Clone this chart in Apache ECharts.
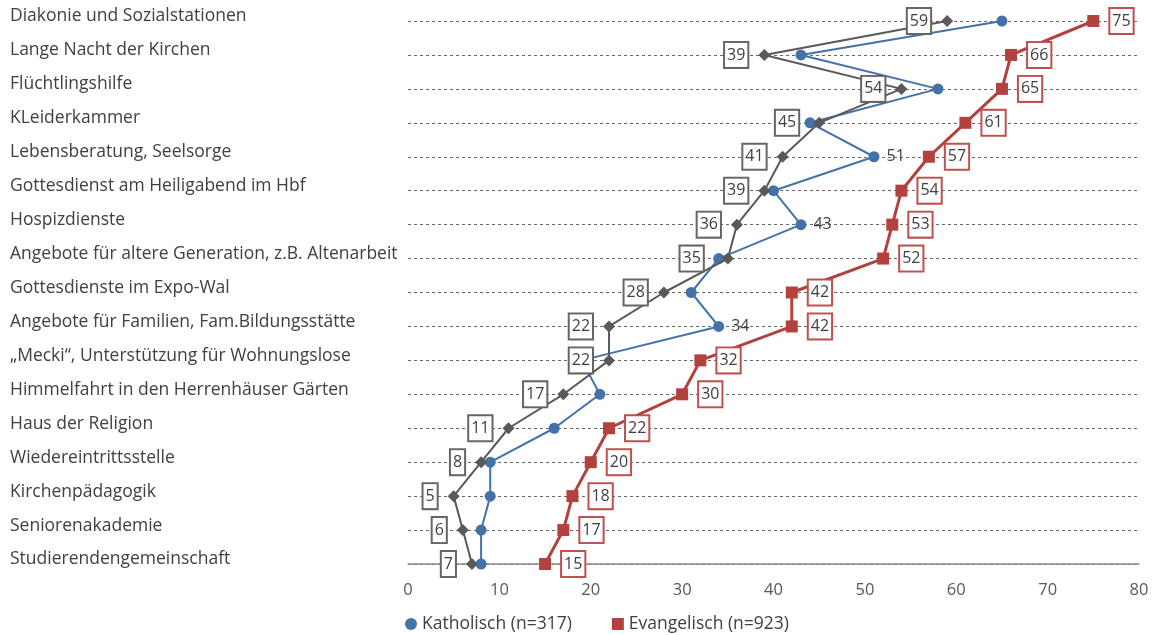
<!DOCTYPE html>
<html>
<head>
<meta charset="utf-8">
<script src="https://cdn.jsdelivr.net/npm/echarts@6/dist/echarts.min.js"></script>
<style>
  html, body { margin: 0; padding: 0; background: #fff; }
  #chart { width: 1154px; height: 635px; }
</style>
</head>
<body>
<div id="chart"></div>
<script>
// Angebote, von oben nach unten
const categories = [
  'Diakonie und Sozialstationen',
  'Lange Nacht der Kirchen',
  'Flüchtlingshilfe',
  'KLeiderkammer',
  'Lebensberatung, Seelsorge',
  'Gottesdienst am Heiligabend im Hbf',
  'Hospizdienste',
  'Angebote für altere Generation, z.B. Altenarbeit',
  'Gottesdienste im Expo-Wal',
  'Angebote für Familien, Fam.Bildungsstätte',
  '„Mecki“, Unterstützung für Wohnungslose',
  'Himmelfahrt in den Herrenhäuser Gärten',
  'Haus der Religion',
  'Wiedereintrittsstelle',
  'Kirchenpädagogik',
  'Seniorenakademie',
  'Studierendengemeinschaft'
];

const katholisch  = [65, 43, 58, 44, 51, 40, 43, 34, 31, 34, 19, 21, 16, 9, 9, 8, 8];
const evangelisch = [75, 66, 65, 61, 57, 54, 53, 52, 42, 42, 32, 30, 22, 20, 18, 17, 15];
const gesamt      = [59, 39, 54, 45, 41, 39, 36, 35, 28, 22, 22, 17, 11, 8, 5, 6, 7];

// Katholische Werte, die eine Beschriftung tragen
const katholischLabelled = [4, 6, 9];
// Gesamt-Beschriftungen, die etwas weiter nach links gerückt sind
const gesamtLabelShift = { 3: -4, 7: -8 };

const xTicks = { min: 0, max: 80, interval: 10 };

const FONT = '"Open Sans", "Liberation Sans", sans-serif';
const TEXT = '#404040';
const BLUE = '#4472A8';
const RED = '#B3413E';
const GRAY = '#595959';

const chart = echarts.init(document.getElementById('chart'), null, { renderer: 'canvas' });

const boxLabel = (borderColor) => ({
  show: true,
  color: TEXT,
  fontFamily: FONT,
  fontSize: 16,
  lineHeight: 20,
  backgroundColor: '#fff',
  borderColor: borderColor,
  borderWidth: 2,
  padding: [3, 2, 1, 2],
  formatter: (p) => String(p.value[0])
});

const option = {
  animation: false,
  textStyle: { fontFamily: FONT },
  grid: { left: 408, right: 15, top: 21, bottom: 71, containLabel: false },
  xAxis: {
    type: 'value',
    min: xTicks.min,
    max: xTicks.max,
    interval: xTicks.interval,
    axisLine: { show: true, lineStyle: { color: '#8c8c8c', width: 1.5 } },
    axisTick: { show: false },
    splitLine: { show: false },
    axisLabel: { color: '#595959', fontSize: 16.5, fontFamily: FONT, margin: 18 }
  },
  yAxis: {
    type: 'category',
    data: categories,
    inverse: true,
    boundaryGap: false,
    axisLine: { show: false },
    axisTick: { show: false },
    splitLine: { show: true, lineStyle: { color: '#666', type: [3, 3], width: 1 } },
    axisLabel: {
      color: TEXT,
      fontSize: 17.5,
      fontFamily: FONT,
      align: 'left',
      verticalAlign: 'bottom',
      lineHeight: 9,
      margin: 398,
      interval: 0
    }
  },
  legend: {
    left: 400,
    top: 610,
    itemWidth: 12,
    itemHeight: 12,
    itemGap: 40,
    textStyle: { color: TEXT, fontSize: 17.5, fontFamily: FONT },
    data: [
      { name: 'Katholisch (n=317)', icon: 'circle' },
      { name: 'Evangelisch (n=923)', icon: 'rect' }
    ]
  },
  series: [
    {
      name: 'Katholisch (n=317)',
      type: 'line',
      z: 2,
      symbol: 'circle',
      symbolSize: 11,
      itemStyle: { color: BLUE },
      lineStyle: { color: BLUE, width: 2 },
      label: {
        show: false,
        position: 'right',
        distance: 7,
        color: TEXT,
        fontSize: 16,
        fontFamily: FONT,
        formatter: (p) => String(p.value[0])
      },
      data: katholisch.map((v, i) => ({
        value: [v, categories[i]],
        label: { show: katholischLabelled.includes(i) }
      }))
    },
    {
      name: 'Evangelisch (n=923)',
      type: 'line',
      z: 3,
      symbol: 'rect',
      symbolSize: 12,
      itemStyle: { color: RED },
      lineStyle: { color: RED, width: 3 },
      label: Object.assign(boxLabel('#C0504D'), { position: 'right', distance: 11 }),
      data: evangelisch.map((v, i) => [v, categories[i]])
    },
    {
      name: 'Gesamt',
      type: 'line',
      z: 4,
      symbol: 'diamond',
      symbolSize: 12,
      itemStyle: { color: GRAY },
      lineStyle: { color: GRAY, width: 2 },
      label: Object.assign(boxLabel('#666'), { position: 'left', distance: 11 }),
      data: gesamt.map((v, i) => {
        const item = { value: [v, categories[i]] };
        if (gesamtLabelShift[i] !== undefined) {
          item.label = { offset: [gesamtLabelShift[i], 0] };
        }
        return item;
      })
    }
  ]
};

chart.setOption(option);
</script>
</body>
</html>
